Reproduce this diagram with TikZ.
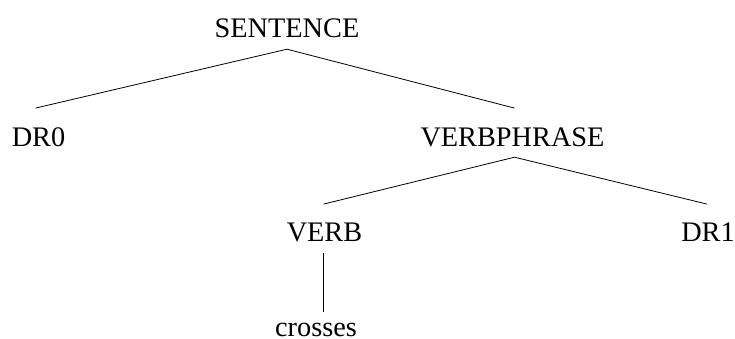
\documentclass[tikz,border=0pt]{standalone}
\usepackage{fontspec}
\setmainfont{Liberation Serif}
\usetikzlibrary{positioning}

\begin{document}
\begin{tikzpicture}[
    x=1pt, y=1pt,
    every node/.style={font=\fontsize{28.3}{34}\selectfont},
    word/.style={inner sep=0pt, anchor=base, text height=18.7pt, text depth=0pt},
    branch/.style={line width=0.8pt}
]
\useasboundingbox (0,0) rectangle (735,338);

\node[word] (sent)    at (287,300)   {SENTENCE};
\node[word] (dr0)     at (38.5,192)  {DR0};
\node[word] (vp)      at (512.5,192) {VERBPHRASE};
\node[word] (verb)    at (324.5,97)  {VERB};
\node[word] (dr1)     at (708,97)    {DR1};
\node[word] (crosses) at (316,2)     {crosses};

% top level
\draw[branch] ([yshift=-11pt]sent.south) -- ([xshift=-3pt,yshift=19pt]dr0.north);
\draw[branch] ([yshift=-11pt]sent.south) -- ([xshift=2pt,yshift=19pt]vp.north);

% verb phrase
\draw[branch] ([xshift=2pt,yshift=-11pt]vp.south) -- ([xshift=-1pt,yshift=18pt]verb.north);
\draw[branch] ([xshift=2pt,yshift=-11pt]vp.south) -- ([xshift=-1pt,yshift=18pt]dr1.north);

% leaf
\draw[branch] ([xshift=-1.5pt,yshift=-12pt]verb.south) -- ([xshift=-1.5pt,yshift=5pt]verb.south |- crosses.north);
\end{tikzpicture}
\end{document}
